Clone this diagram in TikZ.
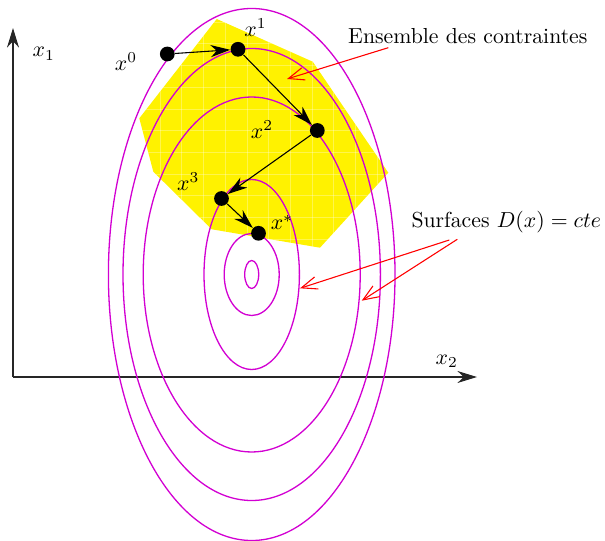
\documentclass[tikz,border=0pt]{standalone}
\usetikzlibrary{arrows.meta}
\definecolor{lvl}{RGB}{210,0,210}
\newcommand{\px}{0.46pt}
\tikzset{
  lvlcurve/.style={draw=lvl, line width=0.6pt},
  axisline/.style={draw=black!85, line width=0.6pt, -{Stealth[length=9pt,width=5.5pt]}},
  dotnode/.style={circle, fill=black, inner sep=0pt, minimum size=6.8pt},
  conn/.style={draw=black, line width=0.5pt, -{Stealth[length=9pt,width=5.6pt,inset=2.8pt]}},
  pointer/.style={draw=red, line width=0.5pt, -{Straight Barb[length=7.3pt,width=5.8pt]}},
  lbl/.style={inner sep=0pt},
}
\begin{document}
\begin{tikzpicture}[x=0.46pt, y=-0.46pt]
\useasboundingbox (0,0) rectangle (605,541);
% constraint set
\fill[yellow] (216.7,19) -- (312.7,61.7) -- (388.3,172.7) -- (320,247.7) -- (211.7,229.3) -- (153.3,171.7) -- (139.3,118.3) -- cycle;
\begin{scope}
  \clip (216.7,19) -- (312.7,61.7) -- (388.3,172.7) -- (320,247.7) -- (211.7,229.3) -- (153.3,171.7) -- (139.3,118.3) -- cycle;
  \foreach \i in {0,...,12} {
    \draw[white, opacity=0.3, line width=0.2pt] ({138.3+21.7*\i},0) -- ({138.3+21.7*\i},260);
    \draw[white, opacity=0.3, line width=0.2pt] (130,{0.3+21.7*\i}) -- (400,{0.3+21.7*\i});
  }
\end{scope}
% axes
\coordinate (O) at (13,377);
\coordinate (Y) at (13,28);
\coordinate (X) at (477,377);
\draw[axisline] (O) -- (Y);
\draw[axisline] (O) -- (X);
\node[lbl] (lx1) at (43.7,53.8) {$x_1$};
\node[lbl] (lx2) at (446.7,361.3) {$x_2$};
% level curves
\coordinate (C) at (251.7,274.5);
\draw[lvlcurve] (C) ellipse [x radius={7*\px}, y radius={14*\px}];
\draw[lvlcurve] (C) ellipse [x radius={27.5*\px}, y radius={41*\px}];
\draw[lvlcurve] (C) ellipse [x radius={47.7*\px}, y radius={95*\px}];
\draw[lvlcurve] (C) ellipse [x radius={108.5*\px}, y radius={177.5*\px}];
\draw[lvlcurve] (C) ellipse [x radius={128.7*\px}, y radius={226*\px}];
\draw[lvlcurve] (C) ellipse [x radius={143.3*\px}, y radius={266*\px}];
% iterates
\node[dotnode] (p0) at (167.3,54) {};
\node[dotnode] (p1) at (238,49.3) {};
\node[dotnode] (p2) at (317.3,130.5) {};
\node[dotnode] (p3) at (221.5,198.5) {};
\node[dotnode] (ps) at (258.5,233.3) {};
\draw[conn] (p0) -- (p1);
\draw[conn] (p1) -- (p2);
\draw[conn] (p2) -- (p3);
\draw[conn] (p3) -- (ps);
\node[lbl] (l0) at (126,62) {$x^0$};
\node[lbl] (l1) at (255.5,28) {$x^1$};
\node[lbl] (l2) at (262,130) {$x^2$};
\node[lbl] (l3) at (188.3,181.3) {$x^3$};
\node[lbl] (ls) at (282,222.5) {$x^*$};
% annotations
\node[lbl, anchor=base] (tens) at (467.8,43.3) {Ensemble des contraintes};
\node[lbl, anchor=base] (tsurf) at (506.3,228) {Surfaces $D(x)=cte$};
\coordinate (a0) at (388.3,47.7);
\coordinate (a1) at (287,79);
\coordinate (b0) at (449.3,240);
\coordinate (b1) at (300,288.3);
\coordinate (c0) at (457.3,239.3);
\coordinate (c1) at (361.7,300.7);
\draw[pointer] (a0) -- (a1);
\draw[pointer] (b0) -- (b1);
\draw[pointer] (c0) -- (c1);
\end{tikzpicture}
\end{document}
